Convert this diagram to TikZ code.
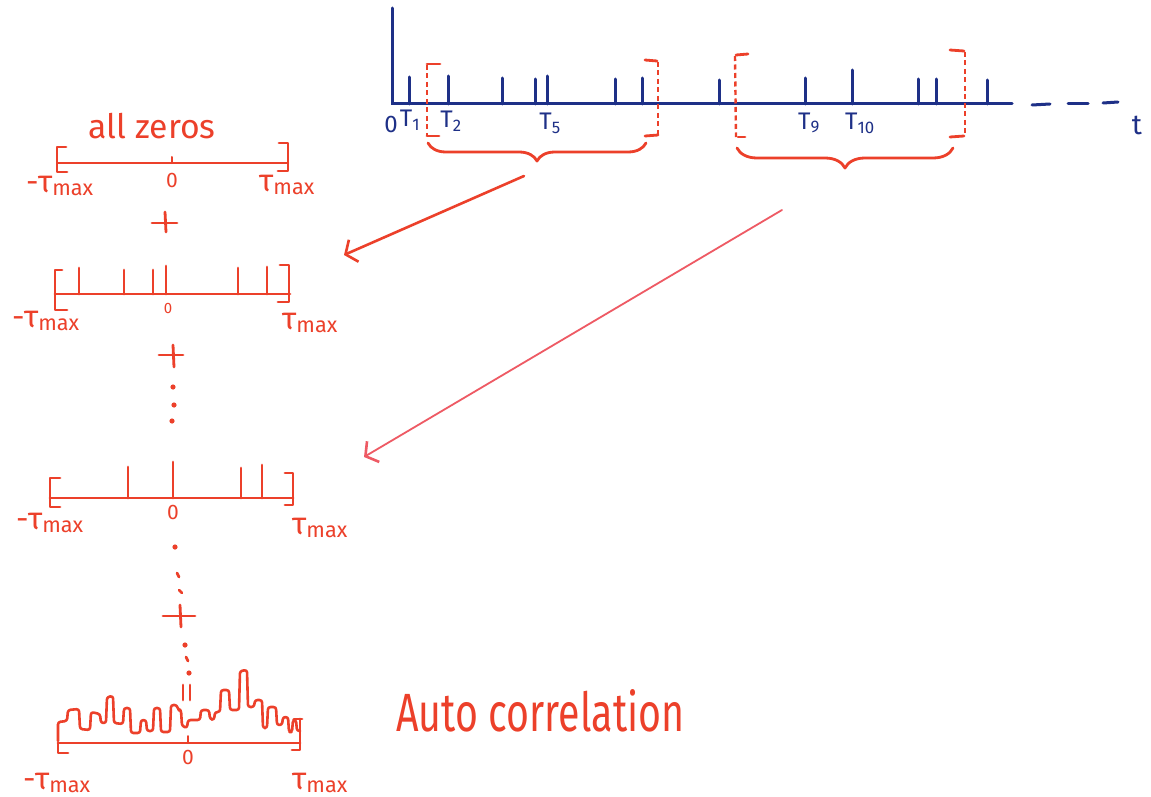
\documentclass[tikz,border=0pt]{standalone}
\usepackage{fontspec}
\usepackage{graphicx}
\setmainfont{Fira Sans}
\usetikzlibrary{arrows.meta,decorations.pathreplacing}
\definecolor{penblue}{RGB}{30,48,135}
\definecolor{penred}{RGB}{236,64,42}
\definecolor{penpink}{RGB}{238,90,100}
\tikzset{
  blueline/.style={draw=penblue, line width=3pt, line cap=round},
  redline/.style={draw=penred, line width=2.8pt, line cap=round, line join=round},
  reddash/.style={draw=penred, line width=2.4pt, dash pattern=on 5pt off 3.5pt},
  redarrow/.style={draw=penred, line width=2.6pt, line cap=round, -{Straight Barb[length=9pt,width=24pt,line width=2.6pt]}},
  bluelbl/.style={text=penblue, inner sep=0pt, font=\fontsize{24}{26}\selectfont},
  redlbl/.style={text=penred, inner sep=0pt, font=\fontsize{31}{33}\selectfont},
  zerolbl/.style={text=penred, inner sep=0pt, font=\fontsize{21}{24}\selectfont},
  reddot/.style={fill=penred, draw=none},
}
\newcommand{\taumax}{τ\textsubscript{max}}
\begin{document}
\begin{tikzpicture}[x=1pt,y=-1pt]
\useasboundingbox[fill=white] (0,0) rectangle (1151,797);

% ---------------- top time axis (blue) ----------------
\coordinate (origin) at (392,104);
\coordinate (ytop) at (392,8);
\coordinate (xend) at (1012,104);
\draw[blueline] (ytop) -- (origin) -- (xend);
\coordinate (d1a) at (1032,105); \coordinate (d1b) at (1050,104);
\coordinate (d2a) at (1068,104); \coordinate (d2b) at (1088,104);
\coordinate (d3a) at (1103,103); \coordinate (d3b) at (1118,102);
\draw[blueline] (d1a) -- (d1b);
\draw[blueline] (d2a) -- (d2b);
\draw[blueline] (d3a) -- (d3b);
\foreach \x/\t in {409/77,448/76,502/78,535/79,547/76,615/79,642/78,719/80,805/78,852/70,918/79,936/79,987/80}
  \draw[blueline] (\x,104) -- (\x,\t);

\node[bluelbl] (l0) at (391,124) {0};
\node[bluelbl] (lT1) at (410,120) {T\textsubscript{1}};
\node[bluelbl] (lT2) at (451,121) {T\textsubscript{2}};
\node[bluelbl] (lT5) at (550,123) {T\textsubscript{5}};
\node[bluelbl] (lT9) at (809,123) {T\textsubscript{9}};
\node[bluelbl] (lT10) at (860,123) {T\textsubscript{10}};
\node[bluelbl, font=\fontsize{28}{30}\selectfont] (lt) at (1137,125) {t};

% ---------------- red dashed windows ----------------
\draw[reddash] (427,65) -- (427,136);
\draw[redline] (427,64) -- (440,64);
\draw[redline] (427,136) -- (439,136);
\draw[reddash] (658,62) -- (658,136);
\draw[redline] (645,60) -- (657,61);
\draw[redline] (645,136) -- (658,135);

\draw[reddash] (735,56) -- (736,137);
\draw[redline] (736,55) -- (748,54);
\draw[redline] (738,137) -- (745,137);
\draw[reddash] (965,52) -- (965,136);
\draw[redline] (950,50) -- (964,51);
\draw[redline] (950,137) -- (964,136);

% braces
\draw[redline, decorate, decoration={brace, mirror, amplitude=18pt, aspect=0.5}] (428,143) -- (646,143);
\draw[redline, decorate, decoration={brace, mirror, amplitude=20pt, aspect=0.5}] (737,148) -- (953,148);

% arrows
\coordinate (b1) at (524,176);
\coordinate (t1) at (344,255);
\coordinate (b2) at (782,210);
\coordinate (t2) at (364,457);
\draw[redarrow] (b1) -- (t1);
\draw[redarrow, draw=penpink, line width=1.8pt] (b2) -- (t2);

% ---------------- row 1: all zeros ----------------
\node[text=penred, inner sep=0pt] (allz) at (152,126) {\resizebox{127pt}{!}{all zeros}};
\draw[redline, line width=2.2pt] (58,163) -- (288,163);
\draw[redline] (66,147) -- (57,147) -- (57,172) -- (67,172);
\draw[redline] (279,143) -- (288,143) -- (288,171) -- (278,171);
\draw[redline, line width=2pt] (172,157) -- (172,163);
\node[redlbl] (r1l) at (60,186) {-\taumax};
\node[zerolbl] (r1z) at (172,180) {0};
\node[redlbl] (r1r) at (287,185) {\taumax};

% plus 1
\draw[redline] (152,223) -- (177,223);
\draw[redline] (165,212) -- (166,232);

% ---------------- row 2 ----------------
\draw[redline] (55,294) -- (290,294);
\draw[redline] (62,270) -- (55,270) -- (55,310) -- (67,310);
\draw[redline] (280,265) -- (289,265) -- (289,302) -- (278,302);
\foreach \x/\t in {79/268,124/270,153/270,166/266,238/268,267/267}
  \draw[redline] (\x,294) -- (\x,\t);
\node[redlbl] (r2l) at (46,321) {-\taumax};
\node[zerolbl, font=\fontsize{15}{17}\selectfont] (r2z) at (168,308) {0};
\node[redlbl] (r2r) at (310,323) {\taumax};

% plus 2 and dots
\draw[redline] (159,355) -- (183,355);
\draw[redline] (173,345) -- (174,367);
\fill[reddot] (173,387) circle (2.6pt);
\fill[reddot] (174,405) circle (2.6pt);
\fill[reddot] (172,421) circle (2.6pt);

% ---------------- row 3 ----------------
\draw[redline] (50,498) -- (293,498);
\draw[redline] (60,478) -- (50,478) -- (50,507) -- (60,507);
\draw[redline] (285,473) -- (293,473) -- (293,505) -- (285,505);
\foreach \x/\t in {128/467,173/462,241/468,262/465}
  \draw[redline] (\x,498) -- (\x,\t);
\node[redlbl] (r3l) at (50,523) {-\taumax};
\node[zerolbl] (r3z) at (173,512) {0};
\node[redlbl] (r3r) at (320,528) {\taumax};

% dots, plus 3, dots
\fill[reddot] (175,547) circle (2.6pt);
\draw[redline] (177,573) -- (179,577);
\draw[redline] (179,590) -- (182,593);
\draw[redline] (163,616) -- (195,616);
\draw[redline] (180,605) -- (181,627);
\fill[reddot] (185,645) circle (2.6pt);
\draw[redline] (186,657) -- (188,661);
\fill[reddot] (189,673) circle (2.6pt);
\draw[redline] (183,685) -- (183,700);
\draw[redline] (190,685) -- (190,700);

% ---------------- row 4: autocorrelation ----------------
\draw[redline] (58,743) -- (300,743);
\draw[redline] (58,743) -- (58,753) -- (68,753);
\draw[redline] (300,719) -- (300,750) -- (292,750);
\draw[redline] (294,719) -- (302,719);
\draw[redline, line width=2pt] (188,736) -- (188,743);
\draw[redline, line width=2.6pt, rounded corners=2.5pt]
  (58,741) -- (58,722) -- (67,721) -- (68,710) -- (79,709) -- (80,729) -- (90,730)
  -- (91,712) -- (100,714) -- (101,723) -- (106,723) -- (107,697) -- (113,696)
  -- (114,723) -- (123,724) -- (124,708) -- (130,708) -- (131,733) -- (140,733)
  -- (141,720) -- (146,720) -- (147,731) -- (153,731) -- (154,708) -- (160,708)
  -- (161,732) -- (170,732) -- (171,705) -- (177,705) -- (178,710) -- (181,710)
  -- (182,726) -- (187,728) -- (188,720) -- (200,720) -- (201,710) -- (209,710)
  -- (210,719) -- (214,720) -- (215,712) -- (220,712) -- (221,690) -- (229,690)
  -- (230,710) -- (239,710) -- (240,671) -- (247,670) -- (248,707) -- (254,707)
  -- (255,700) -- (262,700) -- (263,728) -- (267,728) -- (268,707) -- (276,707)
  -- (277,725) -- (282,725) -- (283,717) -- (288,717) -- (289,732) -- (292,732)
  -- (293,720) -- (296,720) -- (297,731) -- (300,731);
\node[zerolbl] (r4z) at (188,757) {0};
\node[redlbl] (r4l) at (57,783) {-\taumax};
\node[redlbl] (r4r) at (320,783) {\taumax};

\node[text=penred, inner sep=0pt, anchor=west] (auto) at (396,711) {\resizebox{288pt}{42pt}{Auto correlation}};
\end{tikzpicture}
\end{document}
